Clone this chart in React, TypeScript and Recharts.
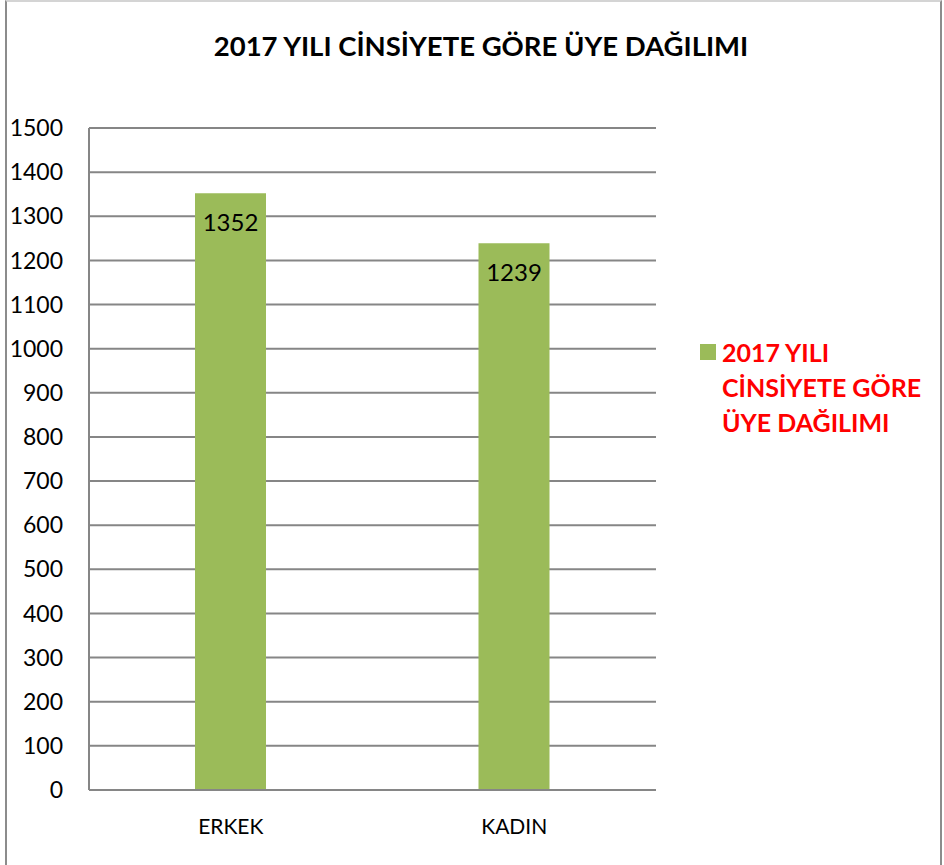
import { BarChart, Bar, XAxis, YAxis, CartesianGrid, LabelList } from "recharts"

const categories = ["ERKEK", "KADIN"]
const members = [1352, 1239]
const yTicks = [0, 100, 200, 300, 400, 500, 600, 700, 800, 900, 1000, 1100, 1200, 1300, 1400, 1500]
const seriesName = "2017 YILI CİNSİYETE GÖRE ÜYE DAĞILIMI"
const legendLines = ["2017 YILI", "CİNSİYETE GÖRE", "ÜYE DAĞILIMI"]

const data = categories.map((c, i) => ({ name: c, value: members[i] }))

const font = "Lato, 'Open Sans', sans-serif"
const gray = "#868686"
const green = "#9bbb59"

export default function App() {
  return (
    <div
      style={{
        position: "absolute",
        left: 0,
        top: 0,
        width: 944,
        height: 865,
        background: "#fff",
        fontFamily: font,
        overflow: "hidden",
      }}
    >
      {/* outer frame */}
      <div
        style={{
          position: "absolute",
          left: 5,
          top: 0,
          width: 937,
          height: 900,
          borderLeft: "2px solid #8c8c8c",
          borderRight: "2px solid #8c8c8c",
          borderTop: "2px solid #d4d4d4",
          boxSizing: "border-box",
        }}
      />
      <div
        style={{
          position: "absolute",
          left: 0,
          width: 962,
          top: 29,
          textAlign: "center",
          fontWeight: 700,
          fontSize: 27.5,
          color: "#000",
        }}
      >
        {seriesName}
      </div>
      <BarChart
        width={944}
        height={865}
        data={data}
        margin={{ top: 128, right: 288, bottom: 35, left: 29 }}
        style={{ position: "absolute", left: 0, top: 0 }}
      >
        <CartesianGrid vertical={false} stroke={gray} strokeWidth={2} />
        <XAxis
          dataKey="name"
          height={40}
          tickLine={false}
          axisLine={{ stroke: gray, strokeWidth: 2 }}
          tick={{ fill: "#000", fontSize: 21, fontFamily: font }}
          tickMargin={23}
        />
        <YAxis
          width={60}
          domain={[0, 1500]}
          ticks={yTicks}
          interval={0}
          tickLine={false}
          tickSize={0}
          tickMargin={26}
          axisLine={{ stroke: gray, strokeWidth: 2 }}
          tick={{ fill: "#000", fontSize: 23, fontFamily: font }}
        />
        <Bar dataKey="value" name={seriesName} fill={green} barSize={71} isAnimationActive={false}>
          <LabelList
            dataKey="value"
            position="insideTop"
            offset={21}
            style={{ fill: "#000", fontSize: 24, fontFamily: font }}
          />
        </Bar>
      </BarChart>
      {/* legend */}
      <div style={{ position: "absolute", left: 700, top: 335, display: "flex" }}>
        <div style={{ width: 16, height: 16, background: green, marginTop: 9, marginRight: 6 }} />
        <div style={{ color: "#ff0000", fontWeight: 700, fontSize: 25, lineHeight: "35px" }}>
          {legendLines.map((l) => (
            <div key={l}>{l}</div>
          ))}
        </div>
      </div>
    </div>
  )
}
